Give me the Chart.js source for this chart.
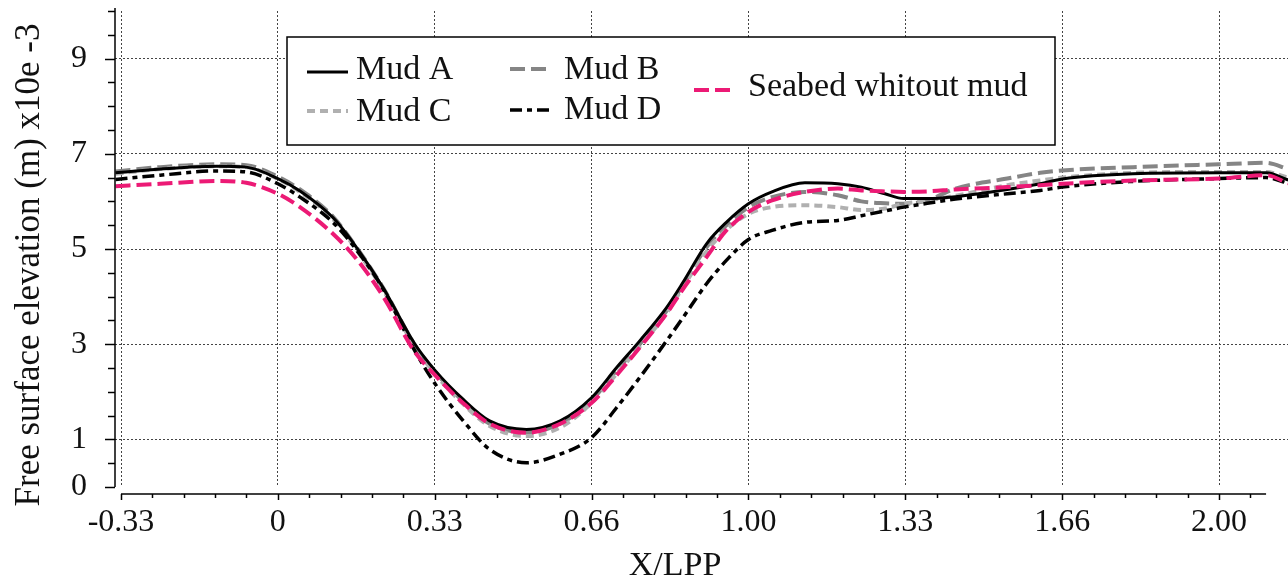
<!DOCTYPE html>
<html><head><meta charset="utf-8">
<script src="https://cdn.jsdelivr.net/npm/chart.js@4"></script>
<style>html,body{margin:0;padding:0;background:#fff;} canvas{display:block;}</style>
</head><body>
<canvas id="c" width="1288" height="581"></canvas>
<script>
// ---- data ----
const xPositions = [-0.345, -0.25, -0.13, -0.067, 0, 0.047, 0.117, 0.168, 0.224, 0.29, 0.334, 0.394, 0.45, 0.528, 0.6, 0.667, 0.72, 0.769, 0.826, 0.861, 0.911, 0.953, 1.0, 1.05, 1.12, 1.19, 1.24, 1.29, 1.33, 1.38, 1.44, 1.55, 1.62, 1.667, 1.817, 2.0, 2.1, 2.147];
const mudA = [6.60,6.68,6.74,6.72,6.48,6.22,5.66,5.02,4.18,3.02, 2.45,1.84,1.39,1.21,1.39,1.88,2.51,3.07,3.77,4.3, 5.11,5.56,5.95,6.2,6.39,6.37,6.30,6.16,6.06,6.06, 6.1,6.25,6.37,6.47,6.58,6.6,6.6,6.45];
const mudB = [6.63,6.72,6.78,6.76,6.52,6.25,5.68,5.02,4.18,3.0, 2.42,1.8,1.33,1.15,1.33,1.83,2.45,3.0,3.7,4.25, 5.04,5.5,5.88,6.09,6.2,6.13,6.0,5.96,5.95,6.02, 6.27,6.48,6.6,6.65,6.72,6.78,6.81,6.68];
const mudC = [6.58,6.68,6.74,6.72,6.47,6.2,5.63,4.97,4.14,2.96, 2.38,1.74,1.28,1.07,1.25,1.77,2.38,2.95,3.65,4.2, 4.95,5.4,5.74,5.88,5.92,5.88,5.82,5.85,5.95,6.02, 6.12,6.34,6.44,6.5,6.6,6.62,6.62,6.5];
const mudD = [6.46,6.55,6.64,6.62,6.37,6.09,5.56,4.97,4.15,2.88, 2.17,1.39,0.79,0.51,0.69,1.04,1.67,2.30,3.07,3.56, 4.27,4.76,5.2,5.39,5.56,5.6,5.7,5.8,5.88,5.96, 6.05,6.16,6.23,6.3,6.42,6.48,6.5,6.38];
const seabed = [6.32,6.37,6.43,6.39,6.16,5.88,5.32,4.78,4.0,2.85, 2.35,1.76,1.33,1.14,1.33,1.77,2.35,2.93,3.64,4.16, 4.83,5.39,5.78,6.02,6.2,6.27,6.23,6.21,6.2,6.21, 6.25,6.3,6.34,6.37,6.44,6.48,6.55,6.38];
const seriesNames = ["Mud A", "Mud B", "Mud C", "Mud D", "Seabed whitout mud"];
const xTickValues = [-1/3, 0, 1/3, 2/3, 1, 4/3, 5/3, 2];
const xTickLabels = ["-0.33", "0", "0.33", "0.66", "1.00", "1.33", "1.66", "2.00"];
const yTickValues = [0, 1, 3, 5, 7, 9];
const xTitle = "X/LPP";
const yTitle = "Free surface elevation (m) x10e -3";

// ---- styling ----
const serif = '"Liberation Serif", "Times New Roman", serif';
function pts(ys) { return xPositions.map((x, i) => ({x: x, y: ys[i]})); }

const datasets = [
  {label: seriesNames[4], data: pts(seabed), borderColor: '#ec1a75', borderWidth: 4, borderDash: [15, 6], order: 0},
  {label: seriesNames[0], data: pts(mudA), borderColor: '#000000', borderWidth: 3, borderDash: [], order: 1},
  {label: seriesNames[3], data: pts(mudD), borderColor: '#000000', borderWidth: 3.5, borderDash: [12, 5, 5, 5], order: 2},
  {label: seriesNames[2], data: pts(mudC), borderColor: '#b0b0b0', borderWidth: 4, borderDash: [8, 5], order: 3},
  {label: seriesNames[1], data: pts(mudB), borderColor: '#858585', borderWidth: 4, borderDash: [15, 6], order: 4}
];

const legendSlots = [
  {label: "Mud A", x: 307, y: 72, ty: 70, tx: 356},
  {label: "Mud C", x: 307, y: 111, ty: 112, tx: 356},
  {label: "Mud B", x: 510, y: 69, ty: 70, tx: 564},
  {label: "Mud D", x: 510, y: 110, ty: 110, tx: 564},
  {label: "Seabed whitout mud", x: 694, y: 90, ty: 87, tx: 748}
];

const decor = {
  id: 'decor',
  afterDraw(chart) {
    const ctx = chart.ctx, ca = chart.chartArea, xs = chart.scales.x, ys = chart.scales.y;
    ctx.save();
    ctx.strokeStyle = '#000'; ctx.lineWidth = 1.5; ctx.setLineDash([]);
    const ax = ca.left;
    ctx.beginPath();
    ctx.moveTo(ax, ys.getPixelForValue(10) - 3);
    ctx.lineTo(ax, ys.getPixelForValue(0));
    ctx.stroke();
    for (let k = 0; k <= 20; k++) {
      const v = k / 2, py = Math.round(ys.getPixelForValue(v)) + 0.5;
      const len = yTickValues.includes(v) ? 10 : 7;
      ctx.beginPath(); ctx.moveTo(ax - len, py); ctx.lineTo(ax, py); ctx.stroke();
    }
    const ay = ca.bottom + 7;
    ctx.beginPath();
    ctx.moveTo(xs.getPixelForValue(-1/3), ay);
    ctx.lineTo(xs.getPixelForValue(2.1), ay);
    ctx.stroke();
    for (let k = 0; ; k++) {
      const v = -1/3 + k / 15;
      if (v > 2.1) break;
      const px = Math.round(xs.getPixelForValue(v)) + 0.5;
      const len = (k % 5 === 0) ? 6 : 4;
      ctx.beginPath(); ctx.moveTo(px, ay); ctx.lineTo(px, ay + len); ctx.stroke();
    }
    ctx.fillStyle = '#fff';
    ctx.fillRect(287, 37, 768, 108);
    ctx.lineWidth = 1.5; ctx.strokeStyle = '#000';
    ctx.strokeRect(287, 37, 768, 108);
    ctx.font = '34px ' + serif;
    ctx.textBaseline = 'middle'; ctx.textAlign = 'left';
    legendSlots.forEach(s => {
      const ds = chart.data.datasets.find(d => d.label === s.label);
      ctx.strokeStyle = ds.borderColor;
      ctx.lineWidth = ds.borderWidth;
      ctx.setLineDash(ds.borderDash || []);
      ctx.beginPath(); ctx.moveTo(s.x, s.y); ctx.lineTo(s.x + 41, s.y); ctx.stroke();
      ctx.setLineDash([]);
      ctx.fillStyle = '#111';
      ctx.fillText(s.label, s.tx, s.ty);
    });
    ctx.fillStyle = '#111';
    ctx.font = '34px ' + serif;
    ctx.textAlign = 'center'; ctx.textBaseline = 'alphabetic';
    ctx.fillText(xTitle, 675, 575);
    ctx.font = '35px ' + serif;
    ctx.translate(39, 265);
    ctx.rotate(-Math.PI / 2);
    ctx.fillText(yTitle, 0, 0);
    ctx.restore();
  }
};

new Chart(document.getElementById('c'), {
  type: 'line',
  data: {datasets: datasets},
  options: {
    responsive: false,
    animation: false,
    devicePixelRatio: 1,
    layout: {padding: {top: 11, left: 0, right: 0, bottom: 0}},
    elements: {
      point: {radius: 0},
      line: {tension: 0.4, cubicInterpolationMode: 'monotone', fill: false, borderCapStyle: 'butt'}
    },
    plugins: {legend: {display: false}, tooltip: {enabled: false}},
    scales: {
      x: {
        type: 'linear', min: -0.3461, max: 2.1466,
        afterBuildTicks: s => { s.ticks = xTickValues.map(v => ({value: v})); },
        afterFit: s => { s.height = 94; s.paddingLeft = 0; s.paddingRight = 0; s.paddingTop = 0; s.paddingBottom = 0; },
        ticks: {
          autoSkip: false, maxRotation: 0, padding: 16, color: '#111',
          font: {family: serif, size: 32},
          callback: (v, i) => xTickLabels[i]
        },
        grid: {color: '#444', lineWidth: 1, drawTicks: false},
        border: {display: false, dash: [2, 2]}
      },
      y: {
        min: 0, max: 10,
        afterBuildTicks: s => { s.ticks = yTickValues.map(v => ({value: v})); },
        afterFit: s => { s.width = 115; s.paddingTop = 0; s.paddingBottom = 0; s.paddingLeft = 0; s.paddingRight = 0; },
        ticks: {padding: 28, color: '#111', font: {family: serif, size: 32}},
        grid: {
          color: c => (c.tick && c.tick.value === 0) ? 'rgba(0,0,0,0)' : '#444',
          lineWidth: 1, drawTicks: false
        },
        border: {display: false, dash: [2, 2]}
      }
    }
  },
  plugins: [decor]
});
</script>
</body></html>
